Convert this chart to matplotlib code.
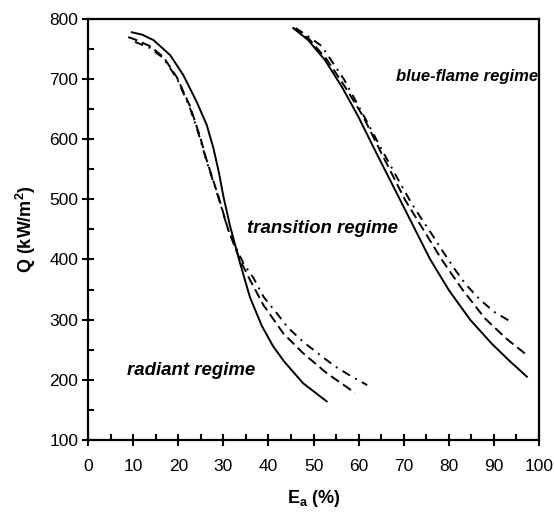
import matplotlib
matplotlib.use("Agg")
import matplotlib.pyplot as plt
from matplotlib.ticker import MultipleLocator

plt.rcParams['font.family'] = ['Liberation Sans', 'DejaVu Sans']

# ---- radiant / transition group (left curves) ----
left_solid_x = [9.7, 12, 14.5, 18.2, 21.1, 24.1, 26.3, 27.8, 29, 30, 31.5, 33.7, 35.9, 38.5, 41, 43.5, 47.7, 52.9]
left_solid_y = [778, 774, 765, 740, 707, 662, 624, 585, 545, 505, 455, 394, 337, 290, 256, 230, 194, 164]

left_dash_x = [8.9, 10.4, 13.7, 16.7, 19.7, 22.6, 24.8, 26.3, 28.9, 31.1, 33.7, 35.9, 38.9, 43.3, 47.7, 52.9, 59.2]
left_dash_y = [770, 766, 755, 737, 703, 655, 605, 565, 505, 449, 399, 366, 324, 277, 244, 211, 178]

left_dd_x = [10.4, 13.7, 16.7, 19.7, 22.6, 24.8, 26.3, 28.9, 31.1, 34.4, 36.7, 38.9, 41.8, 44.4, 47.7, 51.1, 54.8, 58.5, 61.9]
left_dd_y = [762, 752, 735, 701, 652, 602, 563, 503, 448, 394, 369, 338, 311, 286, 263, 243, 222, 205, 191]

# ---- blue-flame group (right curves) ----
right_solid_x = [45.5, 48.8, 52.5, 56.3, 59.9, 63.6, 69.2, 75.8, 80, 84.7, 89.5, 93.5, 97.3]
right_solid_y = [785, 765, 732, 687, 638, 582, 499, 401, 349, 300, 260, 231, 205]

right_dash_x = [45.5, 49, 53, 57, 61, 64.7, 70.3, 78.4, 83, 88, 92.8, 97.3]
right_dash_y = [785, 767, 732, 687, 638, 582, 499, 400, 350, 302, 268, 241]

right_dd_x = [46, 48.5, 51.8, 56.8, 61, 65.1, 69.2, 71.6, 74, 76.4, 78.7, 81.2, 83.7, 86.8, 90, 94.3]
right_dd_y = [785, 773, 755, 699, 641, 583, 527, 495, 467, 440, 413, 385, 359, 334, 313, 294]

regime_labels = ['blue-flame regime', 'transition regime', 'radiant regime']
regime_x = [84, 52, 22.8]
regime_y = [704, 452, 216]
regime_size = [12, 13.4, 13.4]

fig = plt.figure(figsize=(5.54, 5.15), dpi=100)
ax = fig.add_axes([0.159, 0.146, 0.814, 0.817])

lw = 1.4
ax.plot(left_solid_x, left_solid_y, color='black', lw=lw)
ax.plot(left_dash_x, left_dash_y, color='black', lw=lw, dashes=(5, 2.5))
ax.plot(left_dd_x, left_dd_y, color='black', lw=lw, dashes=(4.5, 3, 1, 3))
ax.plot(right_solid_x, right_solid_y, color='black', lw=lw)
ax.plot(right_dash_x, right_dash_y, color='black', lw=lw, dashes=(5, 2.5))
ax.plot(right_dd_x, right_dd_y, color='black', lw=lw, dashes=(4.5, 3, 1, 3))

for t, x, y, fs in zip(regime_labels, regime_x, regime_y, regime_size):
  ax.text(x, y, t, ha='center', va='center', fontsize=fs,
          fontweight='bold', fontstyle='italic')

ax.set_xlim(0, 100)
ax.set_ylim(100, 800)
ax.xaxis.set_major_locator(MultipleLocator(10))
ax.xaxis.set_minor_locator(MultipleLocator(5))
ax.yaxis.set_major_locator(MultipleLocator(100))
ax.yaxis.set_minor_locator(MultipleLocator(50))
ax.tick_params(which='major', direction='inout', length=8, width=1.5, labelsize=12.5)
ax.tick_params(which='minor', direction='in', length=4, width=1.5)
ax.tick_params(axis='x', pad=10)
ax.tick_params(axis='y', pad=3)
for s in ax.spines.values():
  s.set_linewidth(1.6)

ax.set_xlabel('E$_\\mathregular{a}$ (%)', fontsize=13, fontweight='bold', labelpad=10)
ax.set_ylabel('Q (kW/m$^\\mathregular{2}$)', fontsize=13, fontweight='bold', labelpad=8)

fig.savefig('out.png', dpi=100)
